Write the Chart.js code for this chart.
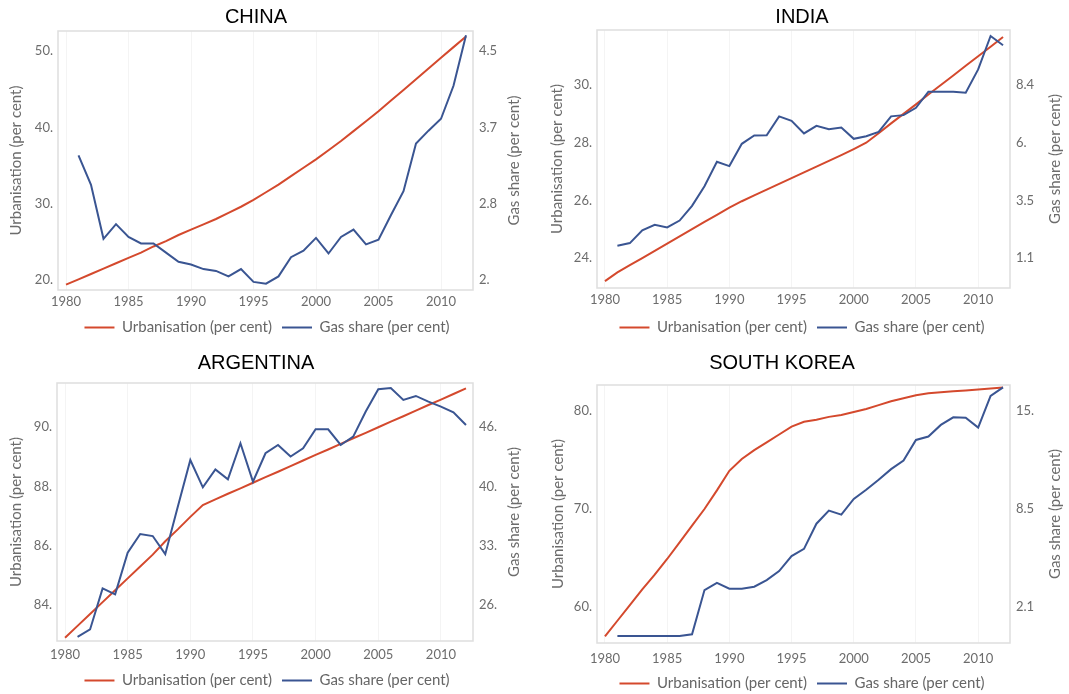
<!DOCTYPE html>
<html><head><meta charset="utf-8">
<script src="https://cdn.jsdelivr.net/npm/chart.js@4.4.0/dist/chart.umd.min.js"></script>
<style>
html,body{margin:0;padding:0;background:#fff;}
body{width:1069px;height:694px;position:relative;overflow:hidden;}
.panel{position:absolute;}
canvas{display:block;}
</style></head><body>
<div class="panel" style="left:0;top:0"><canvas id="c0" width="534" height="347"></canvas></div>
<div class="panel" style="left:535px;top:0"><canvas id="c1" width="534" height="347"></canvas></div>
<div class="panel" style="left:0;top:347px"><canvas id="c2" width="534" height="354"></canvas></div>
<div class="panel" style="left:535px;top:347px"><canvas id="c3" width="534" height="354"></canvas></div>
<script>
// ---------- DATA ----------
const years = [1980,1981,1982,1983,1984,1985,1986,1987,1988,1989,1990,1991,1992,1993,1994,1995,1996,1997,1998,1999,2000,2001,2002,2003,2004,2005,2006,2007,2008,2009,2010,2011,2012];
const gasYears = [1981,1982,1983,1984,1985,1986,1987,1988,1989,1990,1991,1992,1993,1994,1995,1996,1997,1998,1999,2000,2001,2002,2003,2004,2005,2006,2007,2008,2009,2010,2011,2012];
const xTickValues = [1980,1985,1990,1995,2000,2005,2010];
const xTickLabels = ['1980','1985','1990','1995','2000','2005','2010'];
const seriesNames = ['Urbanisation (per cent)','Gas share (per cent)'];

const chinaUrban = [19.4,20.1,20.8,21.5,22.2,22.9,23.6,24.4,25.1,25.9,26.6,27.3,28.0,28.8,29.6,30.5,31.5,32.5,33.6,34.7,35.8,37.0,38.2,39.5,40.8,42.1,43.5,44.9,46.3,47.7,49.1,50.5,51.9];
const chinaGas = [3.36,3.04,2.45,2.61,2.47,2.40,2.40,2.30,2.20,2.17,2.12,2.10,2.04,2.12,1.98,1.96,2.04,2.25,2.32,2.46,2.29,2.47,2.55,2.39,2.44,2.71,2.97,3.49,3.63,3.76,4.12,4.67];
const chinaLeftTicks = [20,30,40,50];
const chinaLeftLabels = ['20.','30.','40.','50.'];
const chinaRightAt = [2.0,4.5];           // gas share values at the lowest / highest left tick
const chinaRightLabels = ['2.','2.8','3.7','4.5'];

const indiaUrban = [23.2,23.5,23.75,24.0,24.25,24.5,24.75,25.0,25.25,25.5,25.75,25.97,26.17,26.37,26.57,26.77,26.97,27.17,27.37,27.57,27.78,28.0,28.33,28.67,29.0,29.33,29.67,30.0,30.33,30.67,31.0,31.33,31.67];
const indiaGas = [1.62,1.73,2.27,2.50,2.39,2.68,3.30,4.13,5.16,4.98,5.92,6.27,6.28,7.08,6.89,6.36,6.68,6.54,6.61,6.13,6.24,6.42,7.08,7.13,7.44,8.12,8.12,8.12,8.08,9.06,10.47,10.08];
const indiaLeftTicks = [24,26,28,30];
const indiaLeftLabels = ['24.','26.','28.','30.'];
const indiaRightAt = [1.1,8.4];
const indiaRightLabels = ['1.1','3.5','6.','8.4'];

const argUrban = [82.9,83.3,83.7,84.1,84.5,84.9,85.3,85.7,86.15,86.55,86.97,87.37,87.56,87.75,87.93,88.12,88.31,88.49,88.68,88.87,89.06,89.24,89.43,89.62,89.80,89.99,90.18,90.36,90.55,90.74,90.92,91.11,91.30];
const argGas = [22.75,23.57,28.17,27.5,32.17,34.26,34.03,32.0,37.3,42.55,39.49,41.5,40.38,44.42,40.12,43.3,44.23,42.93,43.86,45.99,45.99,44.23,45.17,47.97,50.47,50.62,49.28,49.72,49.09,48.53,47.89,46.47];
const argLeftTicks = [84,86,88,90];
const argLeftLabels = ['84.','86.','88.','90.'];
const argRightAt = [26.3,46.25];
const argRightLabels = ['26.','33.','40.','46.'];

const koreaUrban = [57.0,58.6,60.2,61.8,63.3,64.9,66.6,68.3,70.0,71.9,73.9,75.1,76.0,76.8,77.6,78.4,78.9,79.1,79.4,79.6,79.9,80.2,80.6,81.0,81.3,81.6,81.8,81.9,82.0,82.1,82.2,82.3,82.4];
const koreaGas = [0.15,0.15,0.15,0.15,0.15,0.15,0.26,3.18,3.66,3.27,3.27,3.40,3.84,4.43,5.42,5.90,7.56,8.42,8.16,9.19,9.80,10.46,11.16,11.73,13.09,13.31,14.08,14.58,14.56,13.90,15.99,16.56];
const koreaLeftTicks = [60,70,80];
const koreaLeftLabels = ['60.','70.','80.'];
const koreaRightAt = [2.06,15.0];
const koreaRightLabels = ['2.1','8.5','15.'];

// ---------- STYLE / LAYOUT ----------
const RED = '#d4492d';
const BLUE = '#3a5592';
const GREY = '#6c6c6c';
const FONT = 'Lato';
const X_MIN = 1979.36, X_MAX = 2012.56;

const panels = [
  {id:'c0', title:'CHINA', titleX:256, titleY:17, area:{left:58,right:473,top:31,bottom:290}, yMin:18.70, yMax:52.61,
   urban:chinaUrban, gas:chinaGas, lt:chinaLeftTicks, ll:chinaLeftLabels, ra:chinaRightAt, rl:chinaRightLabels, lTitleX:16, rTitleX:514, padB:2, xPad:4},
  {id:'c1', title:'INDIA', titleX:267, titleY:17, area:{left:62,right:475,top:30,bottom:288}, yMin:22.96, yMax:31.91,
   urban:indiaUrban, gas:indiaGas, lt:indiaLeftTicks, ll:indiaLeftLabels, ra:indiaRightAt, rl:indiaRightLabels, lTitleX:22, rTitleX:520, padB:2, xPad:4},
  {id:'c2', title:'ARGENTINA', titleX:256, titleY:16, area:{left:57,right:473,top:36,bottom:294}, yMin:82.79, yMax:91.48,
   urban:argUrban, gas:argGas, lt:argLeftTicks, ll:argLeftLabels, ra:argRightAt, rl:argRightLabels, lTitleX:16, rTitleX:514, padB:3, xPad:6},
  {id:'c3', title:'SOUTH KOREA', titleX:247, titleY:16, area:{left:62,right:475,top:38,bottom:296}, yMin:56.33, yMax:82.65,
   urban:koreaUrban, gas:koreaGas, lt:koreaLeftTicks, ll:koreaLeftLabels, ra:koreaRightAt, rl:koreaRightLabels, lTitleX:23, rTitleX:520, padB:0, xPad:8}
];

const decorPlugin = {
  id: 'decor',
  beforeDatasetsDraw(chart, args, opts) {
    const a = chart.chartArea, ctx = chart.ctx;
    ctx.save();
    ctx.strokeStyle = '#dedede';
    ctx.lineWidth = 1.5;
    ctx.strokeRect(a.left, a.top, a.right - a.left, a.bottom - a.top);
    ctx.restore();
  },
  afterDraw(chart, args, opts) {
    const a = chart.chartArea, ctx = chart.ctx;
    const cy = (a.top + a.bottom) / 2;
    ctx.save();
    ctx.fillStyle = '#000';
    ctx.font = '20px "Liberation Sans"';
    ctx.textAlign = 'center';
    ctx.textBaseline = 'middle';
    ctx.fillText(opts.title, opts.titleX, opts.titleY);
    ctx.fillStyle = GREY;
    ctx.font = '15px ' + FONT;
    [opts.lTitleX, opts.rTitleX].forEach((x, i) => {
      ctx.save();
      ctx.translate(x, cy);
      ctx.rotate(-Math.PI / 2);
      ctx.fillText(opts.axisTitles[i], 0, 0);
      ctx.restore();
    });
    ctx.restore();
  }
};

panels.forEach(p => {
  const l0 = p.lt[0], l1 = p.lt[p.lt.length - 1];
  const rMap = v => p.ra[0] + (v - l0) * (p.ra[1] - p.ra[0]) / (l1 - l0);
  const canvas = document.getElementById(p.id);
  new Chart(canvas, {
    type: 'line',
    data: {
      datasets: [
        {label: seriesNames[0], data: years.map((y, i) => ({x: y, y: p.urban[i]})), yAxisID: 'y',
         borderColor: RED, backgroundColor: RED, borderWidth: 2, pointRadius: 0, tension: 0, order: 2, pointStyle: 'line'},
        {label: seriesNames[1], data: gasYears.map((y, i) => ({x: y, y: p.gas[i]})), yAxisID: 'y1',
         borderColor: BLUE, backgroundColor: BLUE, borderWidth: 2, pointRadius: 0, tension: 0, order: 1, pointStyle: 'line'}
      ]
    },
    options: {
      responsive: false, animation: false, devicePixelRatio: 1,
      layout: {padding: {top: p.area.top, bottom: p.padB, left: 0, right: 0}},
      plugins: {
        legend: {position: 'bottom', labels: {usePointStyle: true, pointStyle: 'line', pointStyleWidth: 30, boxHeight: 14,
                 padding: 10, color: '#666', font: {family: FONT, size: 15},
                 sort: (a, b) => a.datasetIndex - b.datasetIndex}},
        tooltip: {enabled: false},
        title: {display: false},
        decor: {title: p.title, titleX: p.titleX, titleY: p.titleY, lTitleX: p.lTitleX, rTitleX: p.rTitleX, axisTitles: seriesNames}
      },
      scales: {
        x: {type: 'linear', min: X_MIN, max: X_MAX,
            afterBuildTicks: s => { s.ticks = xTickValues.map(v => ({value: v})); },
            afterFit: s => { const lg = s.chart.legend ? s.chart.legend.height : 34; s.height = s.chart.height - p.padB - lg - p.area.bottom; },
            ticks: {callback: (v, i) => xTickLabels[i], color: GREY, font: {family: FONT, size: 13}, padding: p.xPad, maxRotation: 0, autoSkip: false},
            grid: {color: 'rgba(0,0,0,0.045)', drawTicks: false}, border: {display: false}},
        y: {type: 'linear', position: 'left', min: p.yMin, max: p.yMax,
            afterBuildTicks: s => { s.ticks = p.lt.map(v => ({value: v})); },
            afterFit: s => { s.width = p.area.left; },
            ticks: {callback: (v, i) => p.ll[i], color: GREY, font: {family: FONT, size: 13}, padding: 5},
            grid: {display: false, drawTicks: false}, border: {display: false}},
        y1: {type: 'linear', position: 'right', min: rMap(p.yMin), max: rMap(p.yMax),
            afterBuildTicks: s => { s.ticks = p.lt.map(v => ({value: rMap(v)})); },
            afterFit: s => { s.width = canvas.width - p.area.right; },
            ticks: {callback: (v, i) => p.rl[i], color: GREY, font: {family: FONT, size: 13}, padding: 6},
            grid: {display: false, drawTicks: false}, border: {display: false}}
      }
    },
    plugins: [decorPlugin]
  });
});
</script>
</body></html>
